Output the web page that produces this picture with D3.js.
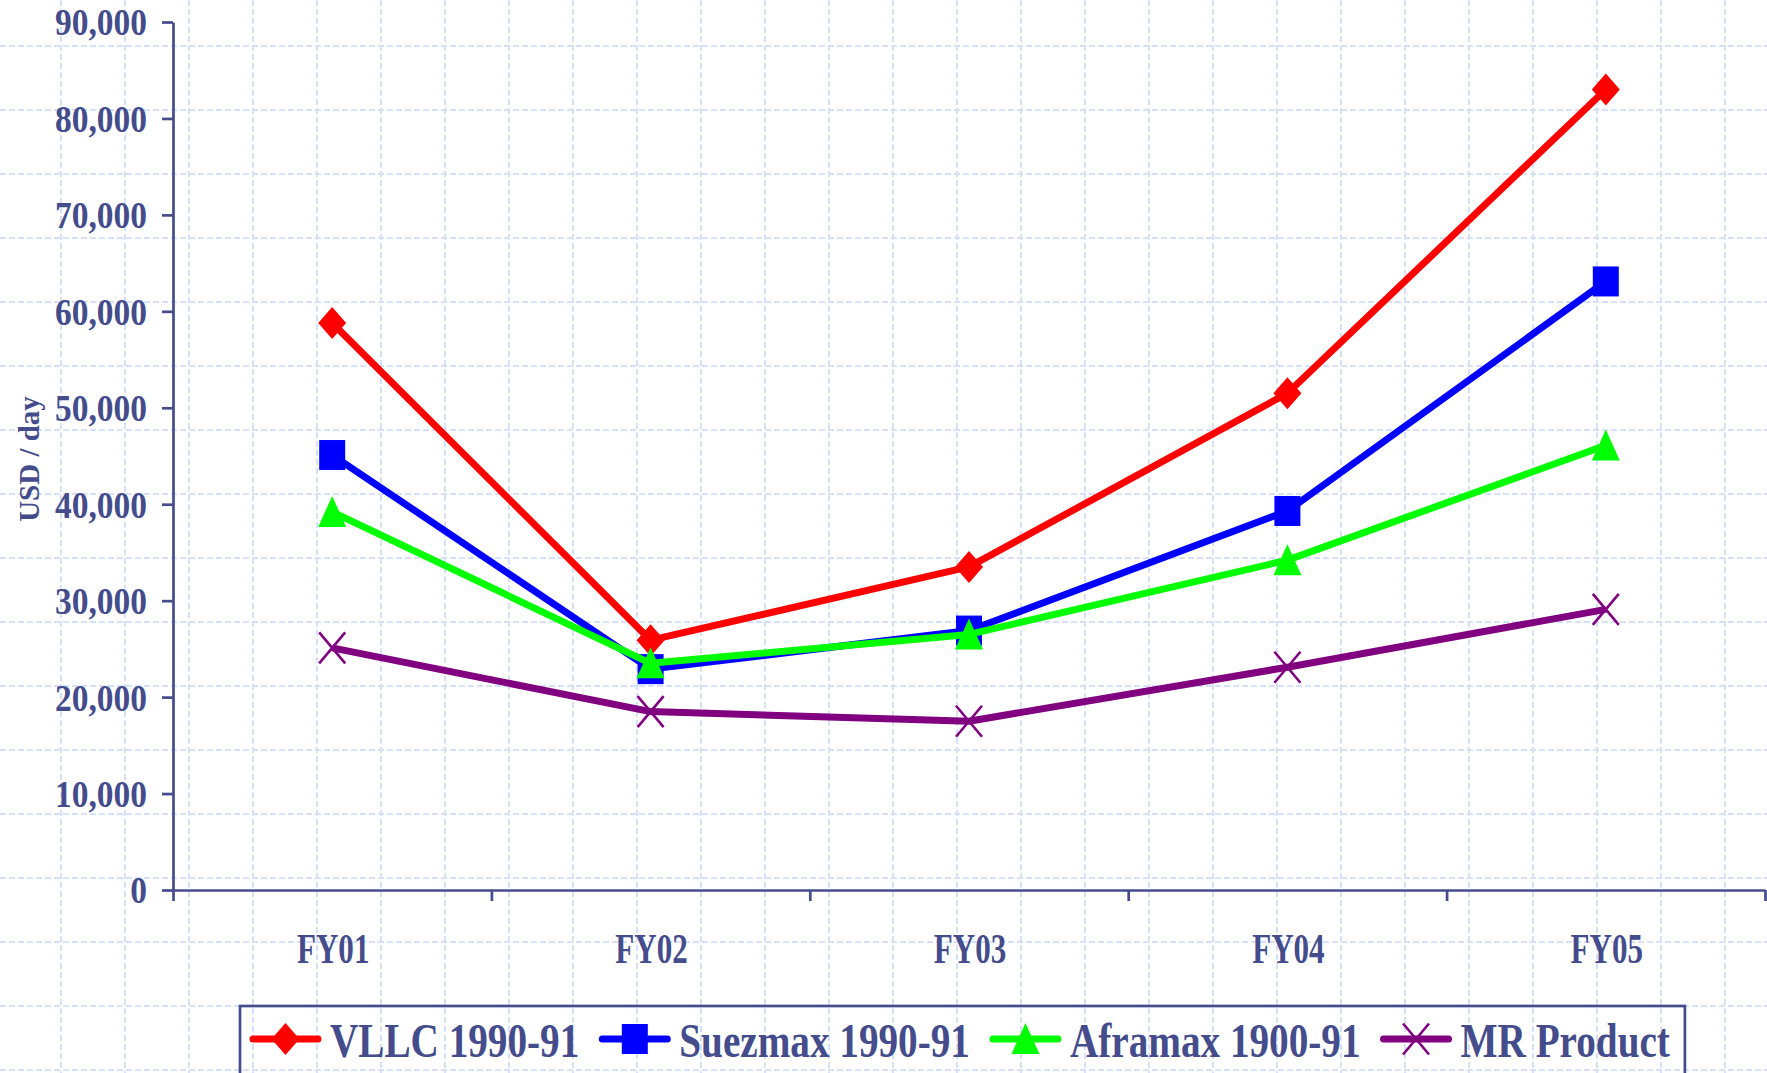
<!DOCTYPE html>
<html lang="en">
<head>
<meta charset="utf-8">
<title>Tanker earnings</title>
<script src="https://d3js.org/d3.v7.min.js"></script>
<style>
  body { margin: 0; background: #fff; }
  svg { display: block; }
  text { font-family: "Liberation Serif", "Times New Roman", serif; font-weight: bold; fill: #444c8c; }
</style>
</head>
<body>
<svg id="chart" width="1767" height="1073"></svg>
<script>
// data
var years = ["FY01", "FY02", "FY03", "FY04", "FY05"];
var vllc     = [58800, 25900, 33500, 51500, 83000];
var suezmax  = [45100, 22900, 26900, 39300, 63100];
var aframax  = [39200, 23500, 26500, 34200, 46100];
var mrProduct = [25100, 18500, 17500, 23100, 29100];
var seriesNames = ["VLLC 1990-91", "Suezmax 1990-91", "Aframax 1900-91", "MR Product"];
var yTicks = [0, 10000, 20000, 30000, 40000, 50000, 60000, 70000, 80000, 90000];

var axisColor = "#444c8c";
var W = 1767, H = 1073;
var plot = {left: 173, right: 1765, top: 22, bottom: 890};

var series = [
  {name: seriesNames[0], values: vllc, color: "#ff0000", marker: "diamond"},
  {name: seriesNames[1], values: suezmax, color: "#0000ff", marker: "square"},
  {name: seriesNames[2], values: aframax, color: "#00ff00", marker: "triangle"},
  {name: seriesNames[3], values: mrProduct, color: "#800080", marker: "cross"}
];

var svg = d3.select("#chart");

// background dashed grid (slide pattern)
var grid = svg.append("g")
  .attr("stroke", "#d6e1f9")
  .attr("stroke-width", 2)
  .attr("stroke-dasharray", "6,3");
grid.selectAll("line.v")
  .data(d3.range(-3, W, 64))
  .join("line")
  .attr("x1", d => d + 64).attr("x2", d => d + 64)
  .attr("y1", 0).attr("y2", H);
grid.selectAll("line.h")
  .data(d3.range(-18, H, 64))
  .join("line")
  .attr("x1", 0).attr("x2", W)
  .attr("y1", d => d + 64).attr("y2", d => d + 64);

// scales
var x = d3.scaleBand().domain(years).range([plot.left, plot.right]);
var xc = d => x(d) + x.bandwidth() / 2;
var y = d3.scaleLinear().domain([0, 90000]).range([plot.bottom, plot.top]);

// y axis
var yAxis = svg.append("g")
  .attr("transform", "translate(" + plot.left + ",0)")
  .call(d3.axisLeft(y).tickValues(yTicks).tickSize(11).tickSizeOuter(0).tickFormat(d3.format(",")));
yAxis.selectAll("path, line").attr("stroke", axisColor).attr("stroke-width", 2.7);
yAxis.selectAll("text")
  .attr("x", 0)
  .attr("dy", "0.34em")
  .attr("transform", "translate(-26,0) scale(0.88,1)")
  .style("font-size", "38px")
  .attr("fill", axisColor);

// x axis: ticks on category boundaries
var xEdges = d3.scaleLinear().domain([0, years.length]).range([plot.left, plot.right]);
var xAxis = svg.append("g")
  .attr("transform", "translate(0," + plot.bottom + ")")
  .call(d3.axisBottom(xEdges).tickValues(d3.range(years.length + 1)).tickSize(11).tickSizeOuter(0).tickFormat(""));
xAxis.selectAll("path, line").attr("stroke", axisColor).attr("stroke-width", 2.7);

svg.append("g")
  .selectAll("text")
  .data(years)
  .join("text")
  .attr("text-anchor", "middle")
  .attr("transform", d => "translate(" + (xc(d) + 1) + ",963) scale(0.74,1)")
  .style("font-size", "42px")
  .text(d => d);

// y title
svg.append("text")
  .attr("transform", "translate(39,459) rotate(-90)")
  .attr("text-anchor", "middle")
  .style("font-size", "29px")
  .text("USD / day");

// markers
function drawMarker(g, type, color) {
  if (type === "diamond") {
    g.append("path").attr("d", "M0,-16L14,0L0,16L-14,0Z").attr("fill", color);
  } else if (type === "square") {
    g.append("rect").attr("x", -13).attr("y", -15).attr("width", 26).attr("height", 30).attr("fill", color);
  } else if (type === "triangle") {
    g.append("path").attr("d", "M0,-16L14,15L-14,15Z").attr("fill", color);
  } else {
    g.append("path").attr("d", "M-13,-15.5L13,15.5M13,-15.5L-13,15.5")
      .attr("stroke", color).attr("stroke-width", 2.6).attr("fill", "none");
  }
}

var line = d3.line().x((d, i) => xc(years[i])).y(d => y(d));

series.forEach(function(s) {
  var g = svg.append("g");
  g.append("path")
    .attr("d", line(s.values))
    .attr("fill", "none")
    .attr("stroke", s.color)
    .attr("stroke-width", 7)
    .attr("stroke-linejoin", "round");
  g.selectAll("g.m")
    .data(s.values)
    .join("g")
    .attr("transform", (d, i) => "translate(" + xc(years[i]) + "," + y(d) + ")")
    .each(function() { drawMarker(d3.select(this), s.marker, s.color); });
});

// legend
var legend = svg.append("g");
var lgTop = 1006, lgLeft = 240, lgMid = 1039, lgScale = 0.8;
var cursor = lgLeft + 10;
series.forEach(function(s) {
  var item = legend.append("g");
  item.append("line")
    .attr("x1", cursor + 3).attr("x2", cursor + 68)
    .attr("y1", lgMid).attr("y2", lgMid)
    .attr("stroke", s.color).attr("stroke-width", 7).attr("stroke-linecap", "round");
  var m = item.append("g").attr("transform", "translate(" + (cursor + 35.5) + "," + lgMid + ")");
  drawMarker(m, s.marker, s.color);
  var t = item.append("text")
    .attr("transform", "translate(" + (cursor + 80) + ",1057) scale(" + lgScale + ",1)")
    .style("font-size", "49px")
    .text(s.name);
  cursor += 80 + t.node().getComputedTextLength() * lgScale + 20;
});
legend.insert("rect", ":first-child")
  .attr("x", lgLeft).attr("y", lgTop)
  .attr("width", cursor - 5 - lgLeft).attr("height", 120)
  .attr("fill", "none")
  .attr("stroke", axisColor)
  .attr("stroke-width", 2.7);
</script>
</body>
</html>
